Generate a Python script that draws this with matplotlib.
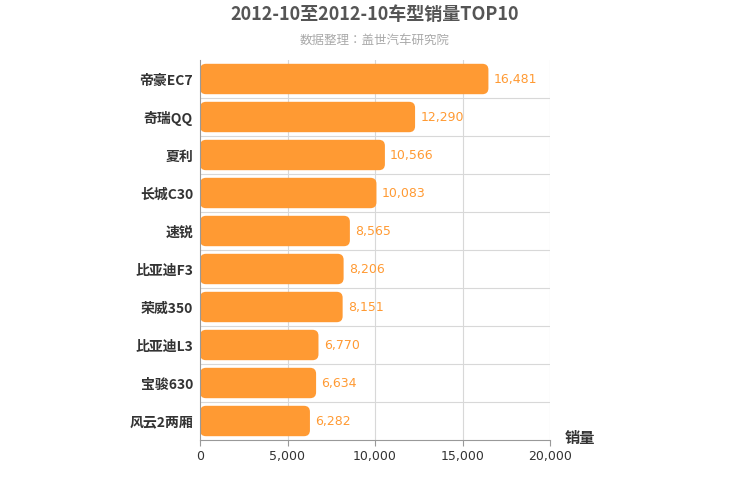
import matplotlib
matplotlib.use("Agg")
import matplotlib.pyplot as plt
from matplotlib import font_manager as fm
from matplotlib.patches import FancyBboxPatch
import numpy as np

cjk = None
for f in fm.findSystemFonts():
    if "NotoSansCJK" in f.replace(" ", "") or "Noto Sans CJK" in f:
        try:
            fm.fontManager.addfont(f)
        except Exception:
            pass
        if cjk is None and ("Regular" in f or "Bold" in f or f.endswith(".ttc")):
            cjk = f
names = sorted({e.name for e in fm.fontManager.ttflist if "CJK" in e.name})
fam = "Noto Sans CJK SC" if "Noto Sans CJK SC" in names else (names[0] if names else "DejaVu Sans")
plt.rcParams['font.family'] = [fam, "DejaVu Sans"]

categories = ["帝豪EC7", "奇瑞QQ", "夏利", "长城C30", "速锐", "比亚迪F3", "荣威350", "比亚迪L3", "宝骏630", "风云2两厢"]
values = [16481, 12290, 10566, 10083, 8565, 8206, 8151, 6770, 6634, 6282]
xticks = [0, 5000, 10000, 15000, 20000]

fig = plt.figure(figsize=(7.5, 5), dpi=100)
ax = fig.add_axes([200/750, 1-440/500, 350/750, 380/500])
n = len(categories)
ax.set_xlim(0, 20000)
ax.set_ylim(n, 0)
color = "#FF9A33"
disp_per_x = 350 / 20000
disp_per_y = 380 / n
for i, v in enumerate(values):
    p = FancyBboxPatch((0, i + 0.1), v, 0.8, boxstyle="round,pad=0,rounding_size=%f" % (6 / disp_per_x),
                       mutation_aspect=disp_per_x / disp_per_y, fc=color, ec="none")
    ax.add_patch(p)
    ax.text(v + 300, i + 0.5, f"{v:,}", va="center", ha="left", color=color, fontsize=9,
            fontfamily="DejaVu Sans")

ax.set_xticks(xticks)
ax.set_xticklabels([f"{t:,}" for t in xticks], fontfamily="DejaVu Sans", fontsize=9, color="#333333")
ax.set_yticks(np.arange(n) + 0.5)
ax.set_yticklabels(categories, fontsize=10, fontweight="bold", color="#333333")
for y in range(1, n):
    ax.axhline(y, color="#d8d8d8", lw=0.8, zorder=0)
for x in xticks[1:]:
    ax.axvline(x, color="#d8d8d8", lw=0.8, zorder=0)
ax.tick_params(axis="y", length=0, pad=5)
ax.tick_params(axis="x", length=4, color="#999999")
for s in ["top", "right"]:
    ax.spines[s].set_visible(False)
ax.spines["left"].set_color("#999999")
ax.spines["bottom"].set_color("#999999")
ax.set_axisbelow(True)

fig.text(375/750, 1-15/500, "2012-10至2012-10车型销量TOP10", ha="center", va="center",
         fontsize=13, fontweight="bold", color="#555555")
fig.text(375/750, 1-40/500, "数据整理：盖世汽车研究院", ha="center", va="center",
         fontsize=9, color="#aaaaaa")
fig.text(580/750, 1-438/500, "销量", ha="center", va="center", fontsize=11, fontweight="bold", color="#333333")
fig.savefig("out.png", dpi=100, facecolor="white")
